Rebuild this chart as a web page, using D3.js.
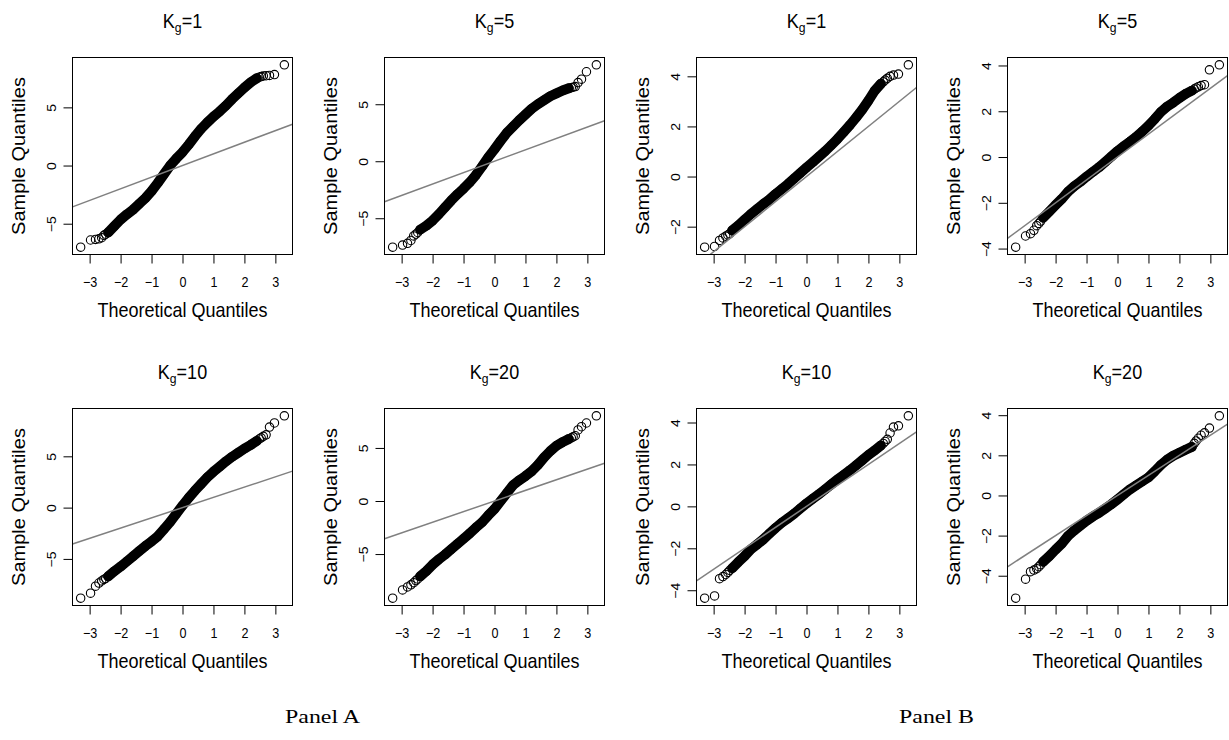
<!DOCTYPE html>
<html>
<head>
<meta charset="utf-8">
<script src="https://cdn.jsdelivr.net/npm/d3@7"></script>
<style>
  html, body { margin: 0; padding: 0; background: #fff; }
  svg { display: block; font-family: "Liberation Sans", Arial, Helvetica, sans-serif; }
</style>
</head>
<body>
<svg id="chart" width="1229" height="740"></svg>
<script>
// Theoretical quantiles used for the dense band and for the extreme points
const bandQ = [-2.4, -2.2, -2.0, -1.8, -1.6, -1.4, -1.2, -1.0, -0.8, -0.6, -0.4, -0.2, 0,
  0.2, 0.4, 0.6, 0.8, 1.0, 1.2, 1.4, 1.6, 1.8, 2.0, 2.2, 2.4];
const lowTailQ = [-3.29, -2.97, -2.81, -2.70, -2.61, -2.54, -2.48];
const highTailQ = [2.48, 2.54, 2.61, 2.70, 2.81, 2.97, 3.29];

// Panel A sample quantiles
const bandA1 = [-5.75, -5.2, -4.65, -4.2, -3.8, -3.3, -2.8, -2.2, -1.5, -0.75, 0.0, 0.6, 1.15,
  1.8, 2.5, 3.15, 3.7, 4.2, 4.65, 5.15, 5.7, 6.2, 6.7, 7.15, 7.5];
const lowA1 = [-7.02, -6.4, -6.35, -6.3, -6.2, -6.0, -5.9];
const highA1 = [7.6, 7.65, 7.7, 7.72, 7.75, 7.82, 8.66];

const bandA2 = [-6.0, -5.65, -5.2, -4.65, -4.05, -3.45, -2.9, -2.4, -1.85, -1.2, -0.45, 0.35, 1.05,
  1.8, 2.5, 3.05, 3.6, 4.1, 4.6, 5.0, 5.35, 5.7, 5.95, 6.2, 6.4];
const lowA2 = [-7.54, -7.35, -7.2, -6.95, -6.55, -6.4, -6.25];
const highA2 = [6.45, 6.5, 6.55, 6.9, 7.2, 7.85, 8.46];

const bandA3 = [-6.7, -6.2, -5.75, -5.25, -4.75, -4.25, -3.75, -3.3, -2.8, -2.1, -1.4, -0.6, 0.2,
  0.95, 1.65, 2.3, 2.95, 3.5, 4.0, 4.5, 4.95, 5.35, 5.75, 6.1, 6.5];
const lowA3 = [-8.83, -8.34, -7.66, -7.35, -7.15, -7.0, -6.9];
const highA3 = [6.7, 6.8, 6.95, 7.1, 7.85, 8.25, 8.95];

const bandA4 = [-7.1, -6.6, -6.0, -5.5, -5.05, -4.55, -4.05, -3.55, -3.05, -2.5, -2.0, -1.35, -0.75,
  0.0, 0.75, 1.5, 1.95, 2.35, 2.8, 3.4, 4.1, 4.7, 5.2, 5.55, 5.85];
const lowA4 = [-9.16, -8.38, -8.1, -7.9, -7.7, -7.5, -7.35];
const highA4 = [5.95, 6.05, 6.15, 6.7, 7.0, 7.35, 8.03];

// Panel B sample quantiles
const bandB1 = [-2.15, -1.95, -1.72, -1.5, -1.3, -1.1, -0.92, -0.7, -0.5, -0.3, -0.08, 0.14, 0.36,
  0.57, 0.79, 1.01, 1.25, 1.5, 1.77, 2.05, 2.35, 2.67, 3.03, 3.42, 3.7];
const lowB1 = [-2.82, -2.79, -2.55, -2.45, -2.38, -2.33, -2.28];
const highB1 = [3.78, 3.85, 3.92, 4.0, 4.05, 4.09, 4.46];

const bandB2 = [-2.65, -2.38, -2.1, -1.83, -1.52, -1.28, -1.08, -0.86, -0.65, -0.45, -0.22, 0.02, 0.26,
  0.47, 0.67, 0.88, 1.12, 1.37, 1.66, 1.97, 2.2, 2.38, 2.58, 2.76, 2.9];
const lowB2 = [-3.94, -3.45, -3.35, -3.2, -3.0, -2.9, -2.8];
const highB2 = [2.97, 3.02, 3.07, 3.12, 3.16, 3.81, 4.03];

const bandB3 = [-2.95, -2.65, -2.37, -2.05, -1.82, -1.58, -1.3, -1.03, -0.78, -0.57, -0.35, -0.1, 0.14,
  0.36, 0.58, 0.81, 1.05, 1.28, 1.5, 1.72, 1.96, 2.2, 2.45, 2.67, 2.9];
const lowB3 = [-4.38, -4.27, -3.45, -3.35, -3.25, -3.15, -3.05];
const highB3 = [3.0, 3.1, 3.2, 3.5, 3.78, 3.84, 4.32];

const bandB4 = [-3.3, -3.02, -2.7, -2.4, -2.02, -1.75, -1.5, -1.26, -1.05, -0.87, -0.66, -0.44, -0.2,
  0.05, 0.3, 0.5, 0.7, 0.9, 1.2, 1.52, 1.78, 1.98, 2.13, 2.28, 2.42];
const lowB4 = [-5.12, -4.17, -3.8, -3.72, -3.65, -3.55, -3.45];
const highB4 = [2.6, 2.72, 2.85, 3.0, 3.12, 3.36, 3.97];

// Tick labels
const xTicks = [-3, -2, -1, 0, 1, 2, 3];
const yTicksA = [-5, 0, 5];
const yTicksB1 = [-2, 0, 2, 4];
const yTicksB = [-4, -2, 0, 2, 4];

// Reference line y = x
const refSlope = 1;
const refIntercept = 0;

const panelNames = ['Panel A', 'Panel B'];

const COL_LEFT = [72, 384, 696, 1007];
const ROW_TOP = [57, 408];
const BOX_W = 220;
const BOX_H = 197;
const SX = 0.9; // text in the original is slightly condensed
const R = 4.2;

const plots = [
  { kg: '1', col: 0, row: 0, band: bandA1, low: lowA1, high: highA1, yTicks: yTicksA },
  { kg: '5', col: 1, row: 0, band: bandA2, low: lowA2, high: highA2, yTicks: yTicksA },
  { kg: '10', col: 0, row: 1, band: bandA3, low: lowA3, high: highA3, yTicks: yTicksA },
  { kg: '20', col: 1, row: 1, band: bandA4, low: lowA4, high: highA4, yTicks: yTicksA },
  { kg: '1', col: 2, row: 0, band: bandB1, low: lowB1, high: highB1, yTicks: yTicksB1 },
  { kg: '5', col: 3, row: 0, band: bandB2, low: lowB2, high: highB2, yTicks: yTicksB },
  { kg: '10', col: 2, row: 1, band: bandB3, low: lowB3, high: highB3, yTicks: yTicksB },
  { kg: '20', col: 3, row: 1, band: bandB4, low: lowB4, high: highB4, yTicks: yTicksB },
];

const svg = d3.select('#chart');
const fmt = d3.format('d');

// R style: data range expanded by 4% on each side
function padExtent(ext) {
  const d = (ext[1] - ext[0]) * 0.04;
  return [ext[0] - d, ext[1] + d];
}

function drawPlot(p, i) {
  const left = COL_LEFT[p.col] + 0.5;
  const top = ROW_TOP[p.row] + 0.5;

  const bandPts = bandQ.map((q, j) => [q, p.band[j]]);
  const pts = [
    ...lowTailQ.map((q, j) => [q, p.low[j]]),
    ...bandPts,
    ...highTailQ.map((q, j) => [q, p.high[j]]),
  ];

  const x = d3.scaleLinear().domain(padExtent(d3.extent(pts, (d) => d[0]))).range([0, BOX_W]);
  const y = d3.scaleLinear().domain(padExtent(d3.extent(pts, (d) => d[1]))).range([BOX_H, 0]);

  const g = svg.append('g').attr('transform', `translate(${left},${top})`);

  g.append('clipPath')
    .attr('id', `clip${i}`)
    .append('rect')
    .attr('width', BOX_W)
    .attr('height', BOX_H);

  const plotArea = g.append('g').attr('clip-path', `url(#clip${i})`);

  // Dense part of the sample: overlapping circles form a solid band
  plotArea.append('path')
    .datum(bandPts)
    .attr('d', d3.line().x((d) => x(d[0])).y((d) => y(d[1])))
    .attr('fill', 'none')
    .attr('stroke', '#000')
    .attr('stroke-width', 2 * R + 1.6)
    .attr('stroke-linecap', 'round')
    .attr('stroke-linejoin', 'round');

  plotArea.selectAll('.pt')
    .data(pts)
    .enter()
    .append('circle')
    .attr('class', 'pt')
    .attr('cx', (d) => x(d[0]))
    .attr('cy', (d) => y(d[1]))
    .attr('r', R)
    .attr('fill', 'none')
    .attr('stroke', '#000')
    .attr('stroke-width', 1.1);

  // Reference line
  const xd = x.domain();
  plotArea.append('line')
    .attr('x1', x(xd[0]))
    .attr('y1', y(refIntercept + refSlope * xd[0]))
    .attr('x2', x(xd[1]))
    .attr('y2', y(refIntercept + refSlope * xd[1]))
    .attr('stroke', '#808080')
    .attr('stroke-width', 1.5);

  // Box
  g.append('rect')
    .attr('width', BOX_W)
    .attr('height', BOX_H)
    .attr('fill', 'none')
    .attr('stroke', '#000')
    .attr('stroke-width', 1);

  // Axes
  const xAxis = g.append('g')
    .attr('transform', `translate(0,${BOX_H})`)
    .call(d3.axisBottom(x).tickValues(xTicks).tickSize(9).tickSizeOuter(0).tickFormat(fmt));
  const yAxis = g.append('g')
    .call(d3.axisLeft(y).tickValues(p.yTicks).tickSize(9).tickSizeOuter(0).tickFormat(fmt));

  [xAxis, yAxis].forEach((a) => {
    a.attr('font-family', null).attr('font-size', null);
    a.select('.domain').remove();
    a.selectAll('.tick line').attr('stroke', '#000');
    a.selectAll('.tick text').attr('fill', '#000').attr('font-size', 14);
  });

  xAxis.selectAll('.tick text')
    .attr('y', null)
    .attr('dy', null)
    .attr('transform', `translate(0,32.5) scale(${SX},1)`);

  yAxis.selectAll('.tick text')
    .attr('x', null)
    .attr('dy', null)
    .attr('text-anchor', 'middle')
    .attr('transform', `translate(-17,0) scale(${SX},1) rotate(-90)`);

  // Title K_g=..
  const title = g.append('text')
    .attr('transform', `translate(${BOX_W / 2},${-29.5}) scale(${SX},1)`)
    .attr('text-anchor', 'middle')
    .attr('font-size', 20);
  title.append('tspan').text('K');
  title.append('tspan').attr('font-size', 13.5).attr('dy', 3.5).text('g');
  title.append('tspan').attr('dy', -3.5).text('=' + p.kg);

  // Axis titles
  g.append('text')
    .attr('transform', `translate(${BOX_W / 2},${BOX_H + 62}) scale(${SX},1)`)
    .attr('text-anchor', 'middle')
    .attr('font-size', 20)
    .text('Theoretical Quantiles');

  g.append('text')
    .attr('transform', `translate(-47.5,${BOX_H / 2}) scale(${SX},1) rotate(-90)`)
    .attr('text-anchor', 'middle')
    .attr('font-size', 20)
    .text('Sample Quantiles');
}

plots.forEach(drawPlot);

// Panel captions
svg.selectAll('.panel-name')
  .data(panelNames)
  .enter()
  .append('text')
  .attr('class', 'panel-name')
  .attr('x', (d, i) => [322.5, 936.5][i])
  .attr('y', 723)
  .attr('text-anchor', 'middle')
  .attr('font-family', '"Liberation Serif", "DejaVu Serif", serif')
  .attr('font-size', 18)
  .attr('textLength', 75)
  .attr('lengthAdjust', 'spacingAndGlyphs')
  .text((d) => d);
</script>
</body>
</html>
